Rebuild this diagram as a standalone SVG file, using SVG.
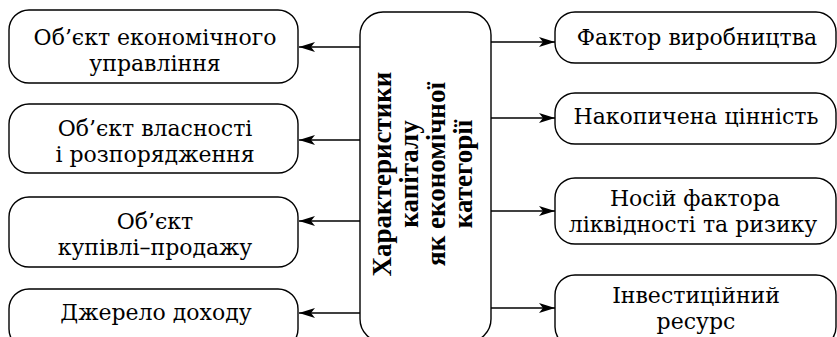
<svg xmlns="http://www.w3.org/2000/svg" width="837" height="337" viewBox="0 0 837 337">
<style>
.box{fill:#fff;stroke:#000;stroke-width:1.4}
.t{font-family:"DejaVu Serif","Liberation Serif",serif;font-size:22px;fill:#000;text-anchor:middle}
.c{font-family:"Liberation Serif",serif;font-size:27px;font-weight:bold;fill:#000;text-anchor:middle}
.ln{stroke:#000;stroke-width:1.4;fill:none;marker-end:url(#ah)}
</style>
<defs>
<marker id="ah" viewBox="0 0 16 10" refX="16" refY="5" markerWidth="16" markerHeight="10" markerUnits="userSpaceOnUse" orient="auto">
<path d="M0,0 L16,5 L0,10 L4,5 Z" fill="#000"/>
</marker>
</defs>
<rect width="837" height="337" fill="#fff"/>
<g id="center">
<rect class="box" x="360" y="12" width="131" height="330" rx="23"/>
<text class="c" transform="translate(391,174) rotate(-90)">Характеристики</text>
<text class="c" transform="translate(418,174) rotate(-90)">капіталу</text>
<text class="c" transform="translate(445,174) rotate(-90)">як економічної</text>
<text class="c" transform="translate(472,174) rotate(-90)">категорії</text>
</g>
<g id="l1"><rect class="box" x="9" y="10" width="289" height="73" rx="20"/>
<text class="t" x="155" y="45">Об’єкт економічного</text><text class="t" x="155" y="71">управління</text></g>
<g id="l2"><rect class="box" x="9" y="104" width="289" height="69" rx="20"/>
<text class="t" x="155" y="136">Об’єкт власності</text><text class="t" x="155" y="162">і розпорядження</text></g>
<g id="l3"><rect class="box" x="9" y="197" width="289" height="70" rx="20"/>
<text class="t" x="155" y="229">Об’єкт</text><text class="t" x="155" y="255">купівлі–продажу</text></g>
<g id="l4"><rect class="box" x="9" y="289" width="289" height="60" rx="20"/>
<text class="t" x="156" y="320">Джерело доходу</text></g>
<g id="r1"><rect class="box" x="555" y="12" width="281" height="51" rx="20"/>
<text class="t" x="697" y="45">Фактор виробництва</text></g>
<g id="r2"><rect class="box" x="555" y="93" width="281" height="51" rx="20"/>
<text class="t" x="696" y="124">Накопичена цінність</text></g>
<g id="r3"><rect class="box" x="555" y="178" width="281" height="66" rx="20"/>
<text class="t" x="695" y="206">Носій фактора</text><text class="t" x="693" y="232">ліквідності та ризику</text></g>
<g id="r4"><rect class="box" x="555" y="275" width="281" height="72" rx="20"/>
<text class="t" x="696" y="303">Інвестиційний</text><text class="t" x="696" y="329">ресурс</text></g>
<g id="connectors">
<line class="ln" x1="360" y1="47" x2="299" y2="47"/>
<line class="ln" x1="360" y1="140" x2="299" y2="140"/>
<line class="ln" x1="360" y1="221" x2="299" y2="221"/>
<line class="ln" x1="360" y1="313" x2="299" y2="313"/>
<line class="ln" x1="491" y1="42" x2="555" y2="42"/>
<line class="ln" x1="491" y1="118" x2="555" y2="118"/>
<line class="ln" x1="491" y1="211" x2="555" y2="211"/>
<line class="ln" x1="491" y1="308" x2="555" y2="308"/>
</g>
</svg>
